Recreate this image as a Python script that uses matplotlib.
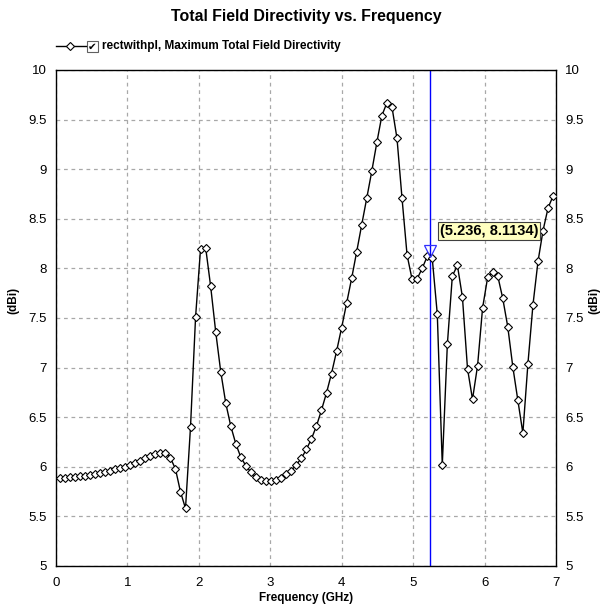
import matplotlib.pyplot as plt
import matplotlib.patches as mpatches
from matplotlib.lines import Line2D

# frequency sweep (GHz) and maximum total field directivity (dBi)
freq = [0.050, 0.121, 0.191, 0.262, 0.332, 0.403, 0.473, 0.544, 0.614, 0.685,
        0.755, 0.826, 0.896, 0.967, 1.037, 1.108, 1.178, 1.249, 1.319, 1.390,
        1.460, 1.531, 1.601, 1.672, 1.742, 1.813, 1.883, 1.954, 2.024, 2.095,
        2.165, 2.236, 2.306, 2.377, 2.447, 2.518, 2.588, 2.659, 2.729, 2.800,
        2.870, 2.941, 3.011, 3.082, 3.152, 3.223, 3.293, 3.364, 3.434, 3.505,
        3.575, 3.646, 3.716, 3.787, 3.857, 3.928, 3.998, 4.069, 4.139, 4.210,
        4.280, 4.351, 4.421, 4.492, 4.562, 4.633, 4.703, 4.774, 4.844, 4.915,
        4.985, 5.056, 5.126, 5.197, 5.267, 5.338, 5.408, 5.479, 5.549, 5.620,
        5.690, 5.761, 5.831, 5.902, 5.972, 6.043, 6.113, 6.184, 6.254, 6.325,
        6.395, 6.466, 6.536, 6.607, 6.677, 6.748, 6.818, 6.889, 6.959]
directivity = [5.89, 5.89, 5.895, 5.90, 5.905, 5.91, 5.92, 5.93, 5.94, 5.95,
               5.96, 5.975, 5.985, 6.00, 6.015, 6.035, 6.06, 6.085, 6.11, 6.13,
               6.14, 6.14, 6.09, 5.98, 5.75, 5.58, 6.40, 7.51, 8.20, 8.21,
               7.82, 7.36, 6.96, 6.64, 6.41, 6.23, 6.095, 6.01, 5.945, 5.895,
               5.87, 5.86, 5.86, 5.87, 5.89, 5.925, 5.96, 6.02, 6.085, 6.175,
               6.28, 6.41, 6.57, 6.745, 6.94, 7.165, 7.40, 7.65, 7.90, 8.17,
               8.44, 8.71, 8.98, 9.27, 9.54, 9.67, 9.63, 9.31, 8.71, 8.135,
               7.89, 7.895, 8.00, 8.12, 8.105, 7.54, 6.02, 7.235, 7.925, 8.03,
               7.71, 6.99, 6.68, 7.02, 7.60, 7.91, 7.965, 7.925, 7.70, 7.41,
               7.01, 6.67, 6.34, 7.04, 7.63, 8.07, 8.38, 8.61, 8.73]

marker_x = 5.236
marker_y = 8.1134

x_ticks = [0, 1, 2, 3, 4, 5, 6, 7]
y_ticks = [5, 5.5, 6, 6.5, 7, 7.5, 8, 8.5, 9, 9.5, 10]
y_tick_labels = ['5', '5.5', '6', '6.5', '7', '7.5', '8', '8.5', '9', '9.5', '10']

trace_label = 'rectwithpl, Maximum Total Field Directivity'

plt.rcParams['font.family'] = ['Liberation Sans', 'DejaVu Sans']

W, H = 602, 610
fig = plt.figure(figsize=(W / 100, H / 100), dpi=100, facecolor='white')
ax = fig.add_axes([56 / W, 44 / H, 500 / W, 496 / H])

ax.plot(freq, directivity, color='black', linewidth=1.0,
        marker='D', markersize=3.6, markerfacecolor='white',
        markeredgecolor='black', markeredgewidth=0.8, zorder=3)

# marker line and readout
ax.axvline(marker_x, color='#0000FF', linewidth=1.0, zorder=2)
ax.plot([marker_x], [marker_y + 0.06], marker='v', markersize=8,
        markerfacecolor='none', markeredgecolor='#3030FF',
        markeredgewidth=0.9, zorder=4)
ax.annotate(f'({marker_x}, {marker_y})', xy=(marker_x, marker_y),
            xytext=(7, 19), textcoords='offset points',
            ha='left', va='center', fontsize=10.5, fontweight='bold',
            bbox=dict(boxstyle='square,pad=0.15', facecolor='#FFFFC0',
                      edgecolor='#404040', linewidth=0.8), zorder=5)

ax.set_xlim(0, 7)
ax.set_ylim(5, 10)
ax.set_xticks(x_ticks)
ax.set_yticks(y_ticks)
ax.set_yticklabels(y_tick_labels)
ax.tick_params(axis='both', length=0, labelsize=9.5, labelright=True)
ax.tick_params(axis='y', pad=6.5)
ax.tick_params(axis='x', pad=8)
ax.grid(True, color='#A8A8A8', linestyle=(0, (3, 3)), linewidth=0.9)
for s in ax.spines.values():
    s.set_color('black')
    s.set_linewidth(1.0)

ax.set_xlabel('Frequency (GHz)', fontsize=8.5, fontweight='bold', labelpad=2)
fig.text(13 / W, 1 - 300 / H, '(dBi)', rotation=90, ha='center', va='center',
         fontsize=8.5, fontweight='bold')
fig.text(594 / W, 1 - 300 / H, '(dBi)', rotation=90, ha='center', va='center',
         fontsize=8.5, fontweight='bold')

fig.text(306 / W, 1 - 17 / H, 'Total Field Directivity vs. Frequency',
         ha='center', va='center', fontsize=11.4, fontweight='bold')

# legend row: line sample, check box, label
fig.add_artist(Line2D([56 / W, 86 / W], [1 - 46 / H, 1 - 46 / H],
                      color='black', linewidth=1.0, transform=fig.transFigure))
fig.add_artist(Line2D([70 / W], [1 - 46 / H], marker='D', markersize=3.6,
                      markerfacecolor='white', markeredgecolor='black',
                      markeredgewidth=0.8, transform=fig.transFigure))
fig.add_artist(mpatches.Rectangle((87 / W, 1 - 52 / H), 11 / W, 11 / H,
                                  facecolor='white', edgecolor='#606060',
                                  linewidth=0.8, transform=fig.transFigure))
fig.text(92.5 / W, 1 - 46.5 / H, '\u2714', ha='center', va='center',
         fontsize=7.5, family='DejaVu Sans')
fig.text(102 / W, 1 - 46 / H, trace_label, ha='left', va='center',
         fontsize=8.5, fontweight='bold')

fig.savefig('out.png', dpi=100, facecolor='white')
